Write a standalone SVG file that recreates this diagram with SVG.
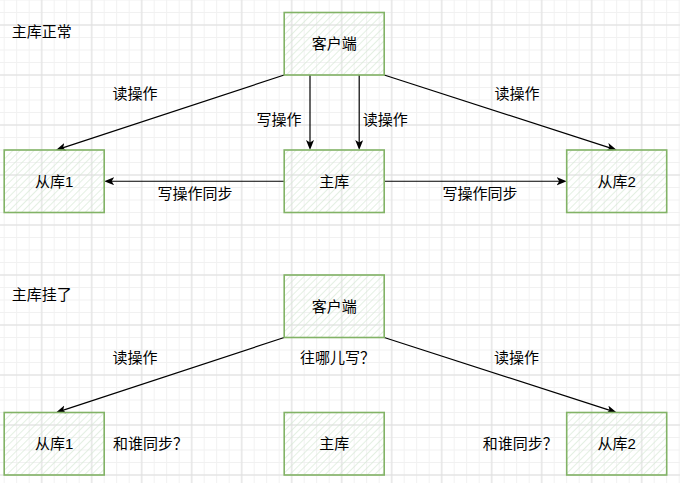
<svg xmlns="http://www.w3.org/2000/svg" width="680" height="483" viewBox="0 0 680 483">
  <defs>
    <pattern id="gridMinor" patternUnits="userSpaceOnUse" x="-2.083" y="-6.25" width="12.5" height="12.5">
      <path d="M6.25,0 V12.5 M0,6.25 H12.5" stroke="#f1f1f1" stroke-width="1" fill="none"/>
    </pattern>
    <pattern id="gridMajor" patternUnits="userSpaceOnUse" x="16.667" y="0" width="50" height="50">
      <path d="M25,0 V50 M0,25 H50" stroke="#dedede" stroke-width="1" fill="none"/>
    </pattern>
    <pattern id="hatch" patternUnits="userSpaceOnUse" width="5" height="5" patternTransform="rotate(45)">
      <line x1="0" y1="0" x2="0" y2="5" stroke="#d5e8d4" stroke-width="1.3"/>
    </pattern>
    <marker id="arrow" markerUnits="userSpaceOnUse" markerWidth="12" markerHeight="10" refX="7" refY="4" orient="auto">
      <path d="M0,0 L10,4 L0,8 L2.5,4 Z" fill="#000"/>
    </marker>
    <style>
      .box { fill: url(#hatch); stroke: #82b366; stroke-width: 1.6; }
      .lbl { font-family: "Liberation Sans", "Noto Sans CJK SC", sans-serif; font-size: 15px; fill: #000; }
      .mid { text-anchor: middle; }
      .edge { stroke: #000; stroke-width: 1.2; fill: none; marker-end: url(#arrow); }
    </style>
  </defs>

  <rect width="680" height="483" fill="#ffffff"/>
  <rect width="680" height="483" fill="url(#gridMinor)"/>
  <rect width="680" height="483" fill="url(#gridMajor)"/>

  <!-- section titles -->
  <text class="lbl" x="11.7" y="37">主库正常</text>
  <text class="lbl" x="11.7" y="300">主库挂了</text>

  <!-- connectors -->
  <g id="connectors">
    <line class="edge" x1="284.2" y1="75" x2="58.85" y2="149.06"/>
    <line class="edge" x1="310" y1="75" x2="310" y2="147"/>
    <line class="edge" x1="359.2" y1="75" x2="359.2" y2="147"/>
    <line class="edge" x1="384.2" y1="75" x2="613.85" y2="149.08"/>
    <line class="edge" x1="284.2" y1="181.25" x2="107.2" y2="181.25"/>
    <line class="edge" x1="384.2" y1="181.25" x2="563.7" y2="181.25"/>
    <line class="edge" x1="284.2" y1="337.5" x2="58.85" y2="411.56"/>
    <line class="edge" x1="384.2" y1="337.5" x2="613.85" y2="411.58"/>

    <text class="lbl mid" x="135" y="99">读操作</text>
    <text class="lbl mid" x="279" y="124.5">写操作</text>
    <text class="lbl mid" x="385.3" y="124.5">读操作</text>
    <text class="lbl mid" x="517" y="99">读操作</text>
    <text class="lbl mid" x="195" y="199">写操作同步</text>
    <text class="lbl mid" x="480" y="199">写操作同步</text>
    <text class="lbl mid" x="135" y="362.5">读操作</text>
    <text class="lbl mid" x="516.5" y="362.5">读操作</text>
    <text class="lbl" x="300" y="362.5">往哪儿写？</text>
    <text class="lbl" x="113" y="448.5">和谁同步？</text>
    <text class="lbl" x="482.7" y="448.5">和谁同步？</text>
  </g>

  <!-- top scenario -->
  <g id="client-top">
    <rect class="box" x="284.2" y="12.5" width="100" height="62.5"/>
    <text class="lbl mid" x="334.2" y="49.3">客户端</text>
  </g>
  <g id="master-top">
    <rect class="box" x="284.2" y="150" width="100" height="62.5"/>
    <text class="lbl mid" x="334.2" y="186.8">主库</text>
  </g>
  <g id="slave1-top">
    <rect class="box" x="4.2" y="150" width="100" height="62.5"/>
    <text class="lbl mid" x="54.2" y="186.8">从库1</text>
  </g>
  <g id="slave2-top">
    <rect class="box" x="566.7" y="150" width="100" height="62.5"/>
    <text class="lbl mid" x="616.7" y="186.8">从库2</text>
  </g>

  <!-- bottom scenario -->
  <g id="client-bottom">
    <rect class="box" x="284.2" y="275" width="100" height="62.5"/>
    <text class="lbl mid" x="334.2" y="311.8">客户端</text>
  </g>
  <g id="master-bottom">
    <rect class="box" x="284.2" y="412.5" width="100" height="62.5"/>
    <text class="lbl mid" x="334.2" y="449.3">主库</text>
  </g>
  <g id="slave1-bottom">
    <rect class="box" x="4.2" y="412.5" width="100" height="62.5"/>
    <text class="lbl mid" x="54.2" y="449.3">从库1</text>
  </g>
  <g id="slave2-bottom">
    <rect class="box" x="566.7" y="412.5" width="100" height="62.5"/>
    <text class="lbl mid" x="616.7" y="449.3">从库2</text>
  </g>
</svg>
